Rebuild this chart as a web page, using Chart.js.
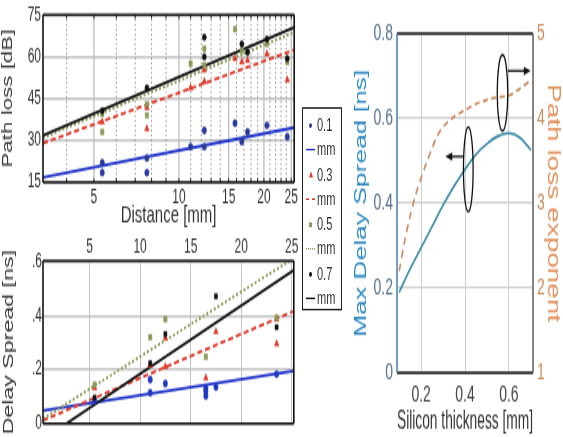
<!DOCTYPE html>
<html><head><meta charset="utf-8">
<script src="https://cdn.jsdelivr.net/npm/chart.js@4.4.0/dist/chart.umd.min.js"></script>
<style>
html,body{margin:0;padding:0;background:#fff;overflow:hidden;}
#stage{position:absolute;left:0;top:0;width:563px;height:273.125px;transform:scaleY(1.6);transform-origin:0 0;}
#stage canvas{position:absolute;}
#legend{position:absolute;left:302px;top:66.9px;width:40px;height:126.9px;border:1.3px solid #222;box-sizing:border-box;font-family:"Liberation Sans Narrow","Liberation Sans",Arial,sans-serif;font-size:11px;color:#333;}
.row{position:absolute;left:3px;height:12px;line-height:12px;white-space:nowrap;}
.sym{display:inline-block;width:9px;height:12px;position:relative;vertical-align:top;margin-right:2px;}
.sym i{position:absolute;display:block;}
</style></head>
<body>
<div id="stage">
  <canvas id="c1" width="300" height="144" style="left:0;top:0;"></canvas>
  <canvas id="c2" width="300" height="128" style="left:0;top:145px;"></canvas>
  <canvas id="c3" width="218" height="273" style="left:345px;top:0;"></canvas>
  <div id="legend"></div>
</div>
<script>
// ---------- DATA ----------
// Top-left: path loss vs distance
const plTicks = [5, 10, 15, 20, 25];
const pl01X = [5.35, 5.35, 7.7, 7.7, 11, 12.3, 12.3, 15.8, 16.7, 17.5, 20.5, 24.2];
const pl01Y = [22, 18.5, 23.7, 18.5, 27.8, 27.8, 33.6, 36.2, 29.6, 33, 35.4, 31.3];
const pl03X = [5.35, 7.7, 7.7, 11, 12.3, 12.3, 15.8, 16.7, 17.5, 20.5, 24.2];
const pl03Y = [36.6, 34.2, 41.8, 48.8, 51.1, 55.2, 59.3, 58.1, 58.7, 61, 51.7];
const pl05X = [5.35, 5.35, 7.7, 7.7, 11, 12.3, 12.3, 15.8, 16.7, 17.5, 20.5, 24.2];
const pl05Y = [39.5, 33, 43, 39, 57.5, 57, 62.8, 69.8, 62.2, 61.6, 64.5, 58.1];
const pl07X = [5.35, 7.7, 12.3, 12.3, 16.7, 17.5, 20.5, 24.2];
const pl07Y = [40.6, 48.8, 66.9, 59.9, 64.5, 61.6, 66.3, 59.3];
const plFitX = [3.3, 25.6];
const plFit01 = [16.8, 34.6];
const plFit03 = [29, 62.4];
const plFit05 = [31, 68.7];
const plFit07 = [31.8, 70.4];

// Bottom-left: delay spread vs distance
const dsTicks = [5, 10, 15, 20, 25];
const ds01X = [5.5, 11, 11, 12.5, 16.5, 16.5, 16.5, 17.5, 23.5];
const ds01Y = [0.085, 0.164, 0.115, 0.149, 0.103, 0.121, 0.133, 0.136, 0.184];
const ds03X = [5.5, 11, 12.5, 12.5, 16.5, 17.5, 23.5, 23.5];
const ds03Y = [0.133, 0.218, 0.318, 0.212, 0.17, 0.342, 0.297, 0.388];
const ds05X = [5.5, 11, 12.5, 16.5, 23.5];
const ds05Y = [0.145, 0.321, 0.388, 0.248, 0.394];
const ds07X = [5.5, 11, 12.5, 17.5, 23.5];
const ds07Y = [0.097, 0.224, 0.333, 0.473, 0.358];
const dsFitX = [0.4, 25.2];
const dsFit01 = [0.048, 0.196];
const dsFit03 = [0.012, 0.418];
const dsFit05 = [0.018, 0.615];
const dsFit07X = [2.7, 25.2];
const dsFit07 = [0, 0.57];

// Right: vs silicon thickness
const thickTicks = [0.2, 0.4, 0.6];
const thickX = [0.1, 0.15, 0.2, 0.25, 0.3, 0.35, 0.4, 0.45, 0.5, 0.55, 0.6, 0.65, 0.7];
const maxDelay = [0.19, 0.245, 0.295, 0.345, 0.395, 0.44, 0.48, 0.515, 0.54, 0.558, 0.565, 0.555, 0.525];
const pleX = [0.1, 0.125, 0.15, 0.175, 0.2, 0.225, 0.25, 0.275, 0.3, 0.35, 0.4, 0.45, 0.5, 0.55, 0.6, 0.65, 0.7];
const pleY = [2.2, 2.55, 2.85, 3.1, 3.3, 3.48, 3.65, 3.8, 3.9, 4.02, 4.1, 4.17, 4.22, 4.25, 4.27, 4.35, 4.45];

const legendLabels = ['0.1', 'mm', '0.3', 'mm', '0.5', 'mm', '0.7', 'mm'];

// ---------- STYLE ----------
const BLUE = '#1f33c8', RED = '#e03a2a', GREEN = '#8a9a58', BLACK = '#111';
const TEAL = '#3a8aa6', ORANGE = '#c8875c';
const FONT = '"Liberation Sans", Arial, sans-serif';

const pts = (xs, ys) => xs.map((x, i) => ({x, y: ys[i]}));
function scatterSet(xs, ys, color, style, r) {
  return {data: pts(xs, ys), showLine: false, pointStyle: style, pointRadius: r,
    pointBackgroundColor: color, pointBorderColor: color, pointBorderWidth: 0.5};
}
function lineSet(xs, ys, color, dash, w) {
  return {data: pts(xs, ys), showLine: true, pointRadius: 0, borderColor: color,
    borderWidth: w || 1.8, borderDash: dash || [], fill: false};
}
function frame(colors, w) {
  return {id: 'frame', afterDraw(chart) {
    const {ctx, chartArea: a} = chart;
    ctx.save(); ctx.lineWidth = w; ctx.setLineDash([]);
    const seg = (c, x1, y1, x2, y2) => { ctx.strokeStyle = c; ctx.beginPath(); ctx.moveTo(x1, y1); ctx.lineTo(x2, y2); ctx.stroke(); };
    seg(colors.top, a.left, a.top, a.right, a.top);
    seg(colors.bottom, a.left, a.bottom, a.right, a.bottom);
    seg(colors.left, a.left, a.top, a.left, a.bottom);
    seg(colors.right, a.right, a.top, a.right, a.bottom);
    ctx.restore();
  }};
}
const blackFrame = {top: '#111', bottom: '#111', left: '#111', right: '#111'};
const fixW = w => (s => { s.width = w; });
const fixH = h => (s => { s.height = h; });
const setTicks = arr => (s => { s.ticks = arr.map(v => ({value: v})); });
const base = {responsive: false, animation: false, devicePixelRatio: 1,
  plugins: {legend: {display: false}, tooltip: {enabled: false}}};

// ---------- CHART 1 ----------
const logGrid = {id: 'logGrid', beforeDatasetsDraw(chart) {
  const {ctx, chartArea: a, scales: {x}} = chart;
  ctx.save();
  for (let v = 4; v <= 25; v++) {
    const px = x.getPixelForValue(v);
    if (px <= a.left + 1 || px >= a.right - 1) continue;
    ctx.beginPath();
    if (v % 5 === 0) { ctx.setLineDash([]); ctx.strokeStyle = '#b8b8b8'; ctx.lineWidth = 1.2; }
    else { ctx.setLineDash([1, 2]); ctx.strokeStyle = '#555'; ctx.lineWidth = 0.8; }
    ctx.moveTo(px, a.top); ctx.lineTo(px, a.bottom); ctx.stroke();
    ctx.setLineDash([]); ctx.strokeStyle = '#111'; ctx.lineWidth = 1;
    ctx.beginPath(); ctx.moveTo(px, a.top); ctx.lineTo(px, a.top + 2.5);
    ctx.moveTo(px, a.bottom); ctx.lineTo(px, a.bottom - 2.5); ctx.stroke();
  }
  ctx.restore();
}};
new Chart(document.getElementById('c1'), {
  type: 'scatter',
  data: {datasets: [
    scatterSet(pl07X, pl07Y, BLACK, 'circle', 2),
    scatterSet(pl05X, pl05Y, GREEN, 'rect', 2.4),
    scatterSet(pl03X, pl03Y, RED, 'triangle', 2.6),
    scatterSet(pl01X, pl01Y, '#2a3a9a', 'circle', 2.2),
    lineSet(plFitX, plFit07, BLACK, [], 1.8),
    lineSet(plFitX, plFit05, GREEN, [2, 2], 1.8),
    lineSet(plFitX, plFit03, RED, [5, 3], 1.8),
    lineSet(plFitX, plFit01, BLUE, [], 1.8)
  ]},
  options: Object.assign({}, base, {
    layout: {padding: {top: 7, right: 5, left: 0, bottom: 0}},
    scales: {
      x: {type: 'logarithmic', min: 3.3, max: 25.6, afterFit: fixH(30), afterBuildTicks: setTicks(plTicks),
        grid: {display: false, drawTicks: false}, border: {display: false},
        ticks: {padding: 2, color: '#333', font: {family: FONT, size: 12}, callback: v => String(v), maxRotation: 0, autoSkip: false},
        title: {display: true, text: 'Distance [mm]', color: '#333', font: {family: FONT, size: 15}, padding: 0}},
      y: {min: 15, max: 75, afterFit: fixW(43),
        grid: {color: '#c4c4c4', lineWidth: 1.4, drawTicks: false}, border: {display: false},
        ticks: {stepSize: 15, padding: 2, color: '#333', font: {family: FONT, size: 12}},
        title: {display: true, text: 'Path loss [dB]', color: '#333', font: {family: FONT, size: 14}, padding: 0}}
    }
  }),
  plugins: [logGrid, frame(blackFrame, 1.6)]
});

// ---------- CHART 2 ----------
new Chart(document.getElementById('c2'), {
  type: 'scatter',
  data: {datasets: [
    scatterSet(ds07X, ds07Y, BLACK, 'rect', 2.2),
    scatterSet(ds05X, ds05Y, GREEN, 'rect', 2.4),
    scatterSet(ds03X, ds03Y, RED, 'triangle', 2.6),
    scatterSet(ds01X, ds01Y, '#2038c0', 'circle', 2.2),
    lineSet(dsFit07X, dsFit07, BLACK, [], 1.8),
    lineSet(dsFitX, dsFit05, GREEN, [2, 2], 1.8),
    lineSet(dsFitX, dsFit03, RED, [5, 3], 1.8),
    lineSet(dsFitX, dsFit01, BLUE, [], 1.8)
  ]},
  options: Object.assign({}, base, {
    layout: {padding: {top: 0, right: 5, left: 0, bottom: 4}},
    scales: {
      x: {type: 'linear', position: 'top', min: 0.4, max: 25.2, afterFit: fixH(18), afterBuildTicks: setTicks(dsTicks),
        grid: {color: '#c4c4c4', lineWidth: 1, drawTicks: false}, border: {display: false},
        ticks: {padding: 1.5, color: '#333', font: {family: FONT, size: 12}, maxRotation: 0, autoSkip: false}},
      y: {min: 0, max: 0.605, afterFit: fixW(43), afterBuildTicks: setTicks([0, 0.2, 0.4, 0.6]),
        grid: {color: '#c4c4c4', lineWidth: 1.4, drawTicks: false}, border: {display: false},
        ticks: {padding: 1, color: '#333', font: {family: FONT, size: 12}, callback: v => v === 0 ? '0' : String(v).replace(/^0/, '')},
        title: {display: true, text: 'Delay Spread [ns]', color: '#333', font: {family: FONT, size: 14.5}, padding: 0}}
    }
  }),
  plugins: [frame(blackFrame, 1.6)]
});

// ---------- CHART 3 ----------
const notes = {id: 'notes', afterDatasetsDraw(chart) {
  const {ctx, scales: {x, y}} = chart;
  ctx.save(); ctx.strokeStyle = '#111'; ctx.fillStyle = '#111'; ctx.lineWidth = 1.3;
  const ell = (cx, cy, hw, hh) => {
    const px = x.getPixelForValue(cx), py = y.getPixelForValue(cy);
    const rx = Math.abs(x.getPixelForValue(cx + hw) - px), ry = Math.abs(y.getPixelForValue(cy + hh) - py);
    ctx.beginPath(); ctx.ellipse(px, py, rx, ry, 0, 0, Math.PI * 2); ctx.stroke();
  };
  const arrow = (x1, x2, yv) => {
    const p1 = x.getPixelForValue(x1), p2 = x.getPixelForValue(x2), py = y.getPixelForValue(yv);
    const dir = Math.sign(p2 - p1);
    ctx.beginPath(); ctx.moveTo(p1, py); ctx.lineTo(p2 - dir * 5, py); ctx.stroke();
    ctx.beginPath(); ctx.moveTo(p2, py); ctx.lineTo(p2 - dir * 7, py - 2.6); ctx.lineTo(p2 - dir * 7, py + 2.6); ctx.closePath(); ctx.fill();
  };
  ell(0.415, 0.48, 0.022, 0.1);
  arrow(0.393, 0.31, 0.51);
  ell(0.571, 0.66, 0.024, 0.09);
  arrow(0.595, 0.7, 0.712);
  ctx.restore();
}};
new Chart(document.getElementById('c3'), {
  type: 'scatter',
  data: {datasets: [
    Object.assign(lineSet(thickX, maxDelay, TEAL, [], 1.6), {yAxisID: 'y', tension: 0.3}),
    Object.assign(lineSet(pleX, pleY, ORANGE, [5, 3.5], 1.6), {yAxisID: 'y2', tension: 0.3})
  ]},
  options: Object.assign({}, base, {
    layout: {padding: {top: 21, right: 0, left: 0, bottom: 0}},
    scales: {
      x: {type: 'linear', min: 0.09, max: 0.71, afterFit: fixH(40), afterBuildTicks: setTicks(thickTicks),
        grid: {color: '#cfcfcf', lineWidth: 1, drawTicks: false}, border: {display: false},
        ticks: {padding: 6, color: '#444', font: {family: FONT, size: 14}, callback: v => v.toFixed(1), maxRotation: 0, autoSkip: false},
        title: {display: true, text: 'Silicon thickness [mm]', color: '#333', font: {family: FONT, size: 16}, padding: 0}},
      y: {position: 'left', min: 0, max: 0.8, afterFit: fixW(52), afterBuildTicks: setTicks([0, 0.2, 0.4, 0.6, 0.8]),
        grid: {color: '#cfcfcf', lineWidth: 1.2, drawTicks: false}, border: {display: false},
        ticks: {padding: 4, color: '#56708c', font: {family: FONT, size: 14}, callback: v => v === 0 ? '0' : v.toFixed(1)},
        title: {display: true, text: 'Max Delay Spread [ns]', color: '#2a86bf', font: {family: FONT, size: 16.5}, padding: 7}},
      y2: {position: 'right', min: 1, max: 5, afterFit: fixW(30), afterBuildTicks: setTicks([1, 2, 3, 4, 5]),
        grid: {display: false, drawTicks: false}, border: {display: false},
        ticks: {padding: 4, color: '#c98b5a', font: {family: FONT, size: 14}},
        title: {display: true, text: 'Path loss exponent', color: '#e0905a', font: {family: FONT, size: 17.5}, padding: 0}}
    }
  }),
  plugins: [notes, frame({top: '#111', bottom: '#111', left: '#4f87b0', right: '#666'}, 1.6)]
});

// ---------- LEGEND ----------
const legendSyms = [
  {t: 'dot', c: '#2a3a9a'}, {t: 'line', c: BLUE}, {t: 'tri', c: RED}, {t: 'dash', c: RED},
  {t: 'sq', c: GREEN}, {t: 'dots', c: GREEN}, {t: 'dot', c: BLACK}, {t: 'line', c: BLACK}
];
const leg = document.getElementById('legend');
const rowCenters = [10.6, 26, 41.5, 57, 72.4, 87.8, 103.3, 118.7];
legendLabels.forEach((lab, i) => {
  const r = document.createElement('div');
  r.className = 'row'; r.style.top = (rowCenters[i] - 6.5) + 'px';
  const s = document.createElement('span'); s.className = 'sym';
  const m = document.createElement('i');
  const sy = legendSyms[i];
  if (sy.t === 'dot') { Object.assign(m.style, {left: '3px', top: '5px', width: '3px', height: '3px', borderRadius: '50%', background: sy.c}); }
  else if (sy.t === 'sq') { Object.assign(m.style, {left: '3px', top: '5px', width: '3px', height: '3px', background: sy.c}); }
  else if (sy.t === 'tri') { Object.assign(m.style, {left: '3px', top: '4px', width: 0, height: 0, borderLeft: '2px solid transparent', borderRight: '2px solid transparent', borderBottom: '4px solid ' + sy.c}); }
  else { Object.assign(m.style, {left: '0px', top: '6px', width: '9px', height: 0, borderTop: '1.5px ' + (sy.t === 'line' ? 'solid' : sy.t === 'dash' ? 'dashed' : 'dotted') + ' ' + sy.c}); }
  s.appendChild(m); r.appendChild(s);
  r.appendChild(document.createTextNode(lab));
  leg.appendChild(r);
});
</script>
</body></html>
